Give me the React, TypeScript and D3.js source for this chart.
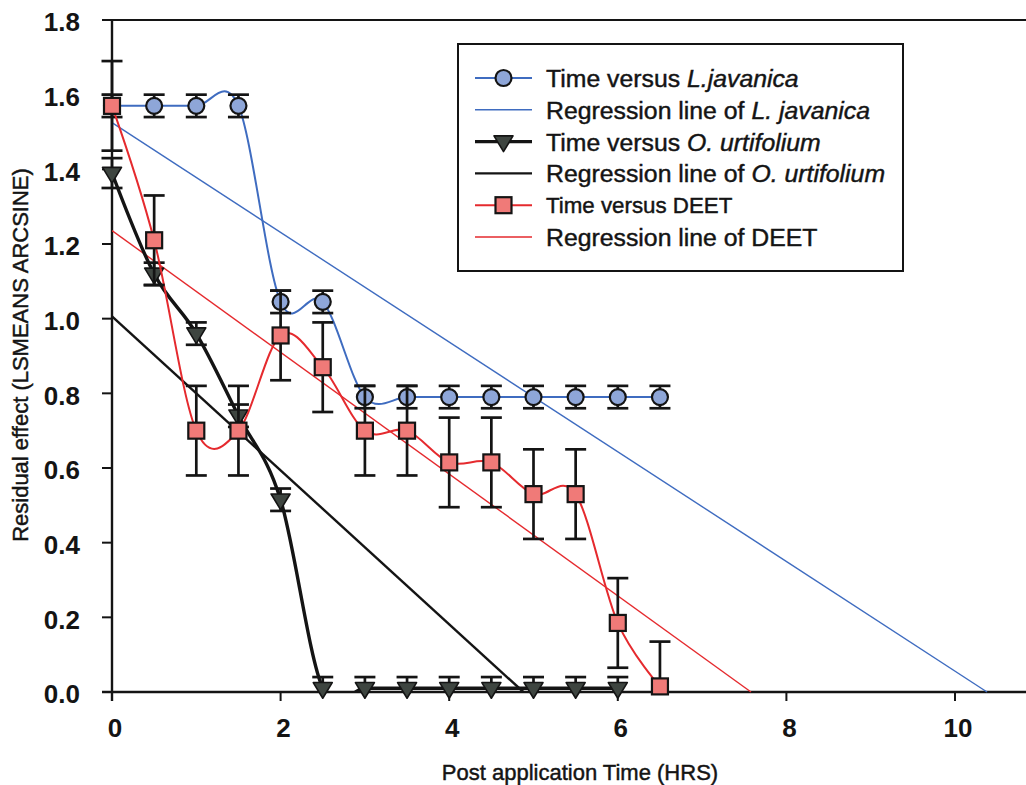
import React from "react";
import * as d3 from "d3";

// Post application time (hours)
const hours = [0, 0.5, 1, 1.5, 2, 2.5, 3, 3.5, 4, 4.5, 5, 5.5, 6, 6.5];
const urtifoliumHours = [0, 0.5, 1, 1.5, 2, 2.5, 3, 3.5, 4, 4.5, 5, 5.5, 6];

// Residual effect (LSMEANS ARCSINE) and standard errors
const javanica = [1.57, 1.57, 1.57, 1.57, 1.045, 1.045, 0.79, 0.79, 0.79, 0.79, 0.79, 0.79, 0.79, 0.79];
const javanicaErr = [0.03, 0.03, 0.03, 0.03, 0.03, 0.03, 0.03, 0.03, 0.03, 0.03, 0.03, 0.03, 0.03, 0.03];
const urtifolium = [1.39, 1.12, 0.96, 0.74, 0.515, 0.01, 0.01, 0.01, 0.01, 0.01, 0.01, 0.01, 0.01];
const urtifoliumErr = [0.04, 0.03, 0.03, 0.03, 0.03, 0.03, 0.03, 0.03, 0.03, 0.03, 0.03, 0.03, 0.03];
const deet = [1.57, 1.21, 0.7, 0.7, 0.955, 0.87, 0.7, 0.7, 0.615, 0.615, 0.53, 0.53, 0.185, 0.015];
const deetErr = [0.12, 0.12, 0.12, 0.12, 0.12, 0.12, 0.12, 0.12, 0.12, 0.12, 0.12, 0.12, 0.12, 0.12];

// Regression lines: intercept and x-intercept (hours at which residual effect reaches zero)
const regressionNames = ["javanica", "urtifolium", "deet"];
const regressionIntercepts = [1.525, 1.006, 1.236];
const regressionZeroAt = [10.38, 4.88, 7.58];

const xTicks = [0, 2, 4, 6, 8, 10];
const yTicks = [0, 0.2, 0.4, 0.6, 0.8, 1.0, 1.2, 1.4, 1.6, 1.8];

const W = 1026;
const H = 785;
const FONT = "'Liberation Sans', Arial, Helvetica, sans-serif";

const BLUE = "#3f6cc0";
const BLUE_FILL = "#8ea6d8";
const RED = "#e52a2e";
const RED_FILL = "#f07a78";
const DARK = "#141414";
const TRI_FILL = "#3e4540";

const x = d3.scaleLinear().domain([0, 10]).range([112, 955]);
const y = d3.scaleLinear().domain([0, 1.8]).range([692, 20]);

const spline = d3
  .line<[number, number]>()
  .x((d) => x(d[0]))
  .y((d) => y(d[1]))
  .curve(d3.curveCardinal.tension(0));

const straight = d3
  .line<[number, number]>()
  .x((d) => x(d[0]))
  .y((d) => y(d[1]));

function ErrorBars({ xs, ys, errs }: { xs: number[]; ys: number[]; errs: number[] }) {
  return (
    <g stroke={DARK} strokeWidth={2.7} fill="none">
      {xs.map((h, i) => {
        const cx = x(h);
        const top = y(ys[i] + errs[i]);
        const bot = y(Math.max(ys[i] - errs[i], 0));
        const showBottom = ys[i] - errs[i] >= -0.001;
        return (
          <g key={i}>
            <line x1={cx} x2={cx} y1={top} y2={bot} />
            <line x1={cx - 10.5} x2={cx + 10.5} y1={top} y2={top} />
            {showBottom && <line x1={cx - 10.5} x2={cx + 10.5} y1={bot} y2={bot} />}
          </g>
        );
      })}
    </g>
  );
}

function Circle({ cx, cy }: { cx: number; cy: number }) {
  return <circle cx={cx} cy={cy} r={8} fill={BLUE_FILL} stroke={DARK} strokeWidth={2.2} />;
}

function Square({ cx, cy }: { cx: number; cy: number }) {
  return <rect x={cx - 8} y={cy - 8} width={16} height={16} fill={RED_FILL} stroke={DARK} strokeWidth={2.2} />;
}

function Triangle({ cx, cy }: { cx: number; cy: number }) {
  const s = 9.5;
  const pts = `${cx - s},${cy - s * 0.6} ${cx + s},${cy - s * 0.6} ${cx},${cy + s * 1.05}`;
  return <polygon points={pts} fill={TRI_FILL} stroke={DARK} strokeWidth={1.6} strokeLinejoin="round" />;
}

export default function App() {
  const regColors = [BLUE, DARK, RED];
  const regWidths = [1.4, 2.4, 1.4];

  const jav = hours.map((h, i) => [h, javanica[i]] as [number, number]);
  const urt = urtifoliumHours.map((h, i) => [h, urtifolium[i]] as [number, number]);
  const dee = hours.map((h, i) => [h, deet[i]] as [number, number]);

  const legendX1 = 475;
  const legendX2 = 532;
  const legendText = 546;
  const rowY = (i: number) => 78 + i * 31.8;
  const heavy = { stroke: DARK, strokeWidth: 0.45 };

  return (
    <div style={{ position: "fixed", left: 0, top: 0, width: W, height: H, background: "#fff" }}>
      <svg width={W} height={H} viewBox={`0 0 ${W} ${H}`} style={{ display: "block" }} fontFamily={FONT}>
        <defs>
          <clipPath id="lineArea">
            <rect x={x(0)} y={0} width={W - x(0)} height={y(0) + 1} />
          </clipPath>
          <clipPath id="markArea">
            <rect x={x(0) - 12} y={0} width={W} height={y(0) + 12} />
          </clipPath>
        </defs>

        {/* frame: top line, axes */}
        <line x1={x(0)} x2={W} y1={y(1.8)} y2={y(1.8)} stroke={DARK} strokeWidth={2} />
        <line x1={x(0)} x2={x(0)} y1={y(1.8)} y2={y(0) + 9} stroke={DARK} strokeWidth={2.4} />
        <line x1={x(0) - 10} x2={W} y1={y(0)} y2={y(0)} stroke={DARK} strokeWidth={2.4} />

        {yTicks.map((t) => (
          <g key={`yt${t}`}>
            <line x1={x(0) - 10} x2={x(0)} y1={y(t)} y2={y(t)} stroke={DARK} strokeWidth={2} />
            <text
              x={80}
              y={y(t) + 2}
              dy="0.36em"
              textAnchor="end"
              fontSize={26}
              fontWeight="bold"
              fill={DARK}
            >
              {t.toFixed(1)}
            </text>
          </g>
        ))}
        {xTicks.map((t) => (
          <g key={`xt${t}`}>
            <line x1={x(t)} x2={x(t)} y1={y(0)} y2={y(0) + 9} stroke={DARK} strokeWidth={2} />
            <text x={x(t) + 3} y={737} textAnchor="middle" fontSize={26} fontWeight="bold" fill={DARK}>
              {t}
            </text>
          </g>
        ))}

        <text x={580} y={780} textAnchor="middle" fontSize={22} fill={DARK} {...heavy}>
          Post application Time (HRS)
        </text>
        <text
          transform={`translate(28,355) rotate(-90)`}
          textAnchor="middle"
          fontSize={22}
          fill={DARK}
          {...heavy}
        >
          Residual effect (LSMEANS ARCSINE)
        </text>

        {/* regression lines */}
        <g clipPath="url(#lineArea)">
          {regressionNames.map((n, i) => (
            <path
              key={n}
              d={straight([
                [0, regressionIntercepts[i]],
                [regressionZeroAt[i], 0],
              ]) as string}
              stroke={regColors[i]}
              strokeWidth={regWidths[i]}
              fill="none"
            />
          ))}
        </g>

        {/* Time versus L. javanica */}
        <g clipPath="url(#lineArea)">
          <path d={spline(jav) as string} stroke={BLUE} strokeWidth={2} fill="none" />
        </g>
        <g clipPath="url(#markArea)">
          <ErrorBars xs={hours} ys={javanica} errs={javanicaErr} />
          {jav.map((d, i) => (
            <Circle key={`c${i}`} cx={x(d[0])} cy={y(d[1])} />
          ))}
        </g>

        {/* Time versus O. urtifolium */}
        <g clipPath="url(#lineArea)">
          <path d={spline(urt) as string} stroke={DARK} strokeWidth={3.4} fill="none" />
        </g>
        <g clipPath="url(#markArea)">
          <ErrorBars xs={urtifoliumHours} ys={urtifolium} errs={urtifoliumErr} />
          {urt.map((d, i) => (
            <Triangle key={`t${i}`} cx={x(d[0])} cy={y(d[1])} />
          ))}
        </g>

        {/* Time versus DEET */}
        <g clipPath="url(#lineArea)">
          <path d={spline(dee) as string} stroke={RED} strokeWidth={2} fill="none" />
        </g>
        <g clipPath="url(#markArea)">
          <ErrorBars xs={hours} ys={deet} errs={deetErr} />
          {dee.map((d, i) => (
            <Square key={`s${i}`} cx={x(d[0])} cy={y(d[1])} />
          ))}
        </g>

        {/* legend */}
        <rect x={458} y={44} width={445} height={227} fill="#fff" stroke={DARK} strokeWidth={2} />
        <g fontSize={24.8} fill={DARK}>
          <line x1={legendX1} x2={legendX2} y1={rowY(0)} y2={rowY(0)} stroke={BLUE} strokeWidth={2} />
          <Circle cx={(legendX1 + legendX2) / 2} cy={rowY(0)} />
          <text x={legendText} y={rowY(0)} dy="0.36em" {...heavy}>
            Time versus <tspan fontStyle="italic">L.javanica</tspan>
          </text>

          <line x1={legendX1} x2={legendX2} y1={rowY(1)} y2={rowY(1)} stroke={BLUE} strokeWidth={1.4} />
          <text x={legendText} y={rowY(1)} dy="0.36em" {...heavy}>
            Regression line of <tspan fontStyle="italic">L. javanica</tspan>
          </text>

          <line x1={legendX1} x2={legendX2} y1={rowY(2)} y2={rowY(2)} stroke={DARK} strokeWidth={3.4} />
          <Triangle cx={(legendX1 + legendX2) / 2} cy={rowY(2)} />
          <text x={legendText} y={rowY(2)} dy="0.36em" {...heavy}>
            Time versus <tspan fontStyle="italic">O. urtifolium</tspan>
          </text>

          <line x1={legendX1} x2={legendX2} y1={rowY(3)} y2={rowY(3)} stroke={DARK} strokeWidth={2.4} />
          <text x={legendText} y={rowY(3)} dy="0.36em" {...heavy}>
            Regression line of <tspan fontStyle="italic">O. urtifolium</tspan>
          </text>

          <line x1={legendX1} x2={legendX2} y1={rowY(4)} y2={rowY(4)} stroke={RED} strokeWidth={2} />
          <Square cx={(legendX1 + legendX2) / 2} cy={rowY(4)} />
          <text x={legendText} y={rowY(4)} dy="0.36em" fontSize={22.3} {...heavy}>
            Time versus DEET
          </text>

          <line x1={legendX1} x2={legendX2} y1={rowY(5)} y2={rowY(5)} stroke={RED} strokeWidth={1.4} />
          <text x={legendText} y={rowY(5)} dy="0.36em" {...heavy}>
            Regression line of DEET
          </text>
        </g>
      </svg>
    </div>
  );
}
